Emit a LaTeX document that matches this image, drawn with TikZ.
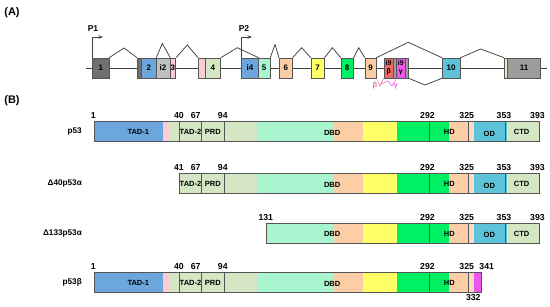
\documentclass[tikz,border=0pt]{standalone}
\usepackage{fontspec}
\setmainfont{Liberation Sans}
\usetikzlibrary{arrows.meta}
\definecolor{gray1}{HTML}{707070}
\definecolor{gray2}{HTML}{C0C0C0}
\definecolor{gray11}{HTML}{9C9C9C}
\definecolor{cblue}{HTML}{6CA6DC}
\definecolor{cpink}{HTML}{F9CDD3}
\definecolor{lgreen}{HTML}{D4E6C3}
\definecolor{lgreen2}{HTML}{DAF2C6}
\definecolor{mint}{HTML}{A8F5CF}
\definecolor{peach}{HTML}{FBCEA6}
\definecolor{lpeach}{HTML}{FCDCC2}
\definecolor{cyellow}{HTML}{FFFF66}
\definecolor{cgreen}{HTML}{00F064}
\definecolor{ccyan}{HTML}{5DC3D8}
\definecolor{cmag}{HTML}{EE55EE}
\definecolor{cred}{HTML}{EE6666}
\definecolor{bline}{HTML}{555555}
\definecolor{iline}{HTML}{404040}
\definecolor{betac}{HTML}{F07C8C}
\definecolor{gammac}{HTML}{E566E8}

\newcommand\ex[6][]{\node[exon,fill=#5,minimum width={(#4-#3)*1pt},#1] (#2) at ({(#3+#4)/2},68) {#6};}
\newcommand\protsegs[1]{%
 \fill[cblue] (94,#1) rectangle (163.3,#1+20);
 \fill[cpink] (163.3,#1) rectangle (170,#1+20);
 \fill[lgreen] (170,#1) rectangle (256.7,#1+20);
 \fill[mint] (256.7,#1) rectangle (333.3,#1+20);
 \fill[peach] (333.3,#1) rectangle (363.3,#1+20);
 \fill[cyellow] (363.3,#1) rectangle (396.7,#1+20);
 \fill[cgreen] (396.7,#1) rectangle (449.3,#1+20);
 \fill[peach] (449.3,#1) rectangle (468.7,#1+20);
 \fill[lpeach] (468.7,#1) rectangle (473.5,#1+20);
 \fill[ccyan] (473.5,#1) rectangle (507.3,#1+20);
 \fill[lgreen] (507.3,#1) rectangle (539,#1+20);}
\newcommand\prow[5]{%
 \begin{scope}\clip (#2,#1) rectangle (#3,#1+20); \protsegs{#1} #5 \end{scope}
 \draw[barline] (#2,#1) rectangle (#3,#1+20);
 \foreach \vx in {#4} {\draw[barline] (\vx,#1) -- (\vx,#1+20);}}
\newcommand\doms[3]{\foreach \nm/\dx/\dy/\dt in {#3} {\node[dom] (#1\nm) at (\dx,#2+\dy) {\dt};}}
\newcommand\nums[3]{\foreach \nm/\nx/\nt in {#3} {\node[num] (#1\nm) at (\nx,#2-6) {\nt};}}

\begin{document}
\begin{tikzpicture}[x=1pt,y=-1pt,
  exon/.style={draw=bline,line width=0.6pt,inner sep=0pt,minimum height=20pt,align=center,
    font=\bfseries\fontsize{8}{9}\selectfont},
  intron/.style={draw=iline,line width=0.75pt},
  barline/.style={draw=bline,line width=0.6pt},
  num/.style={font=\bfseries\fontsize{8.7}{9}\selectfont,inner sep=0pt},
  dom/.style={font=\bfseries\fontsize{7.5}{8}\selectfont,inner sep=0pt},
  rowlab/.style={font=\bfseries\fontsize{8.2}{9}\selectfont,anchor=east,inner sep=0pt},
  panel/.style={font=\bfseries\fontsize{11}{12}\selectfont,inner sep=0pt},
  prom/.style={font=\bfseries\fontsize{8.5}{9}\selectfont,inner sep=0pt}]
\useasboundingbox (0,0) rectangle (550,306);

% ---------- panel A ----------
\node[panel] (pa) at (12,13) {(A)};
\coordinate (L0) at (86,68);
\coordinate (L1) at (547,68);
\draw[intron] (L0) -- (L1);

\ex{e1}{92.7}{109}{gray1}{1}
\ex{e2a}{137.3}{141.7}{gray1}{}
\ex{e2}{141.7}{156}{cblue}{2}
\ex{ei2}{156}{170}{gray2}{i2}
\ex{e3}{170}{175.7}{cpink}{3}
\ex{e4a}{198.3}{205.3}{cpink}{}
\ex{e4}{205.3}{220.5}{lgreen}{4}
\ex{ei4}{241.7}{258.3}{cblue}{i4}
\ex{e5}{258.3}{270}{mint}{5}
\ex{e6}{279.3}{292.3}{peach}{6}
\ex{e7}{311}{324.3}{cyellow}{7}
\ex{e8}{341}{353.3}{cgreen}{8}
\ex{e9}{365}{376}{peach}{9}
\ex[font=\bfseries\fontsize{7}{8}\selectfont]{ei9b}{384}{393.3}{cred}{i9\\β}
\ex{eg1}{393.3}{396.7}{gray11}{}
\ex[font=\bfseries\fontsize{7}{8}\selectfont]{ei9g}{396.7}{405}{cmag}{i9\\γ}
\ex{eg2}{405}{408.3}{gray11}{}
\ex{e10}{442.3}{460}{ccyan}{10}
\ex{e11a}{504.3}{507.7}{lgreen2}{}
\ex{e11}{507.7}{540.7}{gray11}{11}

\coordinate (k1) at (124,48);
\coordinate (k2) at (162.3,43.5);
\coordinate (k3) at (187.3,45);
\coordinate (k4) at (237.3,47.7);
\coordinate (k5) at (275,44.5);
\coordinate (k6) at (301.7,47.7);
\coordinate (k7) at (332.3,47.7);
\coordinate (k8) at (358.7,47.7);
\coordinate (k9) at (408.3,42.3);
\coordinate (k10) at (425,85);
\coordinate (k11) at (480.7,49);
\draw[intron] (e1.north east) -- (k1) -- (e2a.north west);
\draw[intron] (e2.north east) -- (k2) -- (ei2.north east);
\draw[intron] (e3.north east) -- (k3) -- (e4a.north west);
\draw[intron] (e4.north east) -- (k4) -- (ei4.north east);
\draw[intron] (e5.north east) -- (k5) -- (e6.north west);
\draw[intron] (e6.north east) -- (k6) -- (e7.north west);
\draw[intron] (e7.north east) -- (k7) -- (e8.north west);
\draw[intron] (e8.north east) -- (k8) -- (e9.north west);
\draw[intron] (e9.north east) -- (k9) -- (e10.north west);
\draw[intron] (eg2.south east) -- (k10) -- (e10.south west);
\draw[intron] (e10.north east) -- (k11) -- (e11a.north west);

% promoters
\coordinate (p1tip) at (103,37);
\coordinate (p2tip) at (252,37);
\draw[intron,-{Stealth[length=4.5pt,width=3.5pt]}] (e1.north west) |- (p1tip);
\draw[intron,-{Stealth[length=4.5pt,width=3.5pt]}] (ei4.north west) |- (p2tip);
\node[prom] (p1) at (93,29) {P1};
\node[prom] (p2) at (244,29) {P2};

% splice marks
\node[font=\bfseries\fontsize{7.5}{8}\selectfont,text=betac,inner sep=0pt] (bt) at (375,85.5) {β};
\node[font=\bfseries\fontsize{7.5}{8}\selectfont,text=gammac,inner sep=0pt] (gm) at (395.8,86.5) {γ};
\coordinate (s1) at (377.5,80.5);
\coordinate (s2) at (379.8,86);
\coordinate (s3) at (380.6,84.2);
\coordinate (s4) at (388,81);
\coordinate (s5) at (392,86);
\draw[betac,line width=0.6pt] (s1) -- (s2) -- (ei9b.south west);
\draw[gammac,line width=0.6pt] (s3) -- (s4) -- (s5) -- (ei9g.south west);

% ---------- panel B ----------
\node[panel] (pb) at (12,101) {(B)};

% row 1: p53
\prow{121.7}{94}{539}{179.3,201.7,224,429.3,468.7,505.7}{}
\node[rowlab] (l1) at (82,131.7) {p53};
\doms{r1}{121.7}{a/138.3/10.6/TAD-1,b/190.5/10.6/TAD-2,c/212.8/10.6/PRD,d/332.2/10.8/DBD,e/449.3/10.6/HD,f/489.3/12/OD,g/521.7/10.6/CTD}
\nums{r1n}{121.7}{a/93.3/1,b/179/40,c/195.7/67,d/222.8/94,e/427.5/292,f/466.7/325,g/504/353,h/537.5/393}

% row 2: Delta40p53alpha
\prow{173.7}{179.3}{539}{201.7,224,429.3,468.7,505.7}{}
\node[rowlab] (l2) at (82,183.7) {Δ40p53α};
\doms{r2}{173.7}{b/190.5/10.6/TAD-2,c/212.8/10.6/PRD,d/332.2/10.8/DBD,e/449.3/10.6/HD,f/489.3/12/OD,g/521.7/10.6/CTD}
\nums{r2n}{173.7}{b/179/41,c/195.7/67,d/222.8/94,e/427.5/292,f/466.7/325,g/504/353,h/537.5/393}

% row 3: Delta133p53alpha
\prow{223.3}{266}{539}{429.3,468.7,505.7}{}
\node[rowlab] (l3) at (82,233.3) {Δ133p53α};
\doms{r3}{223.3}{d/332.2/10.8/DBD,e/449.3/10.6/HD,f/489.3/12/OD,g/521.7/10.6/CTD}
\nums{r3n}{223.3}{a/265.8/131,e/427.5/292,f/466.7/325,g/504/353,h/537.5/393}

% row 4: p53beta
\prow{272.7}{94}{481.7}{179.3,201.7,224,429.3,468.7}{\fill[cmag] (473.5,272.7) rectangle (481.7,292.7);}
\node[rowlab] (l4) at (82,282.7) {p53β};
\doms{r4}{272.7}{a/138.3/10.6/TAD-1,b/190.5/10.6/TAD-2,c/212.8/10.6/PRD,d/332.2/10.8/DBD,e/449.3/10.6/HD}
\nums{r4n}{272.7}{a/93.3/1,b/179/40,c/195.7/67,d/222.8/94,e/427.5/292,f/466.7/325,g/486.7/341}
\node[num] (r4n332) at (473.3,298) {332};
\end{tikzpicture}
\end{document}
